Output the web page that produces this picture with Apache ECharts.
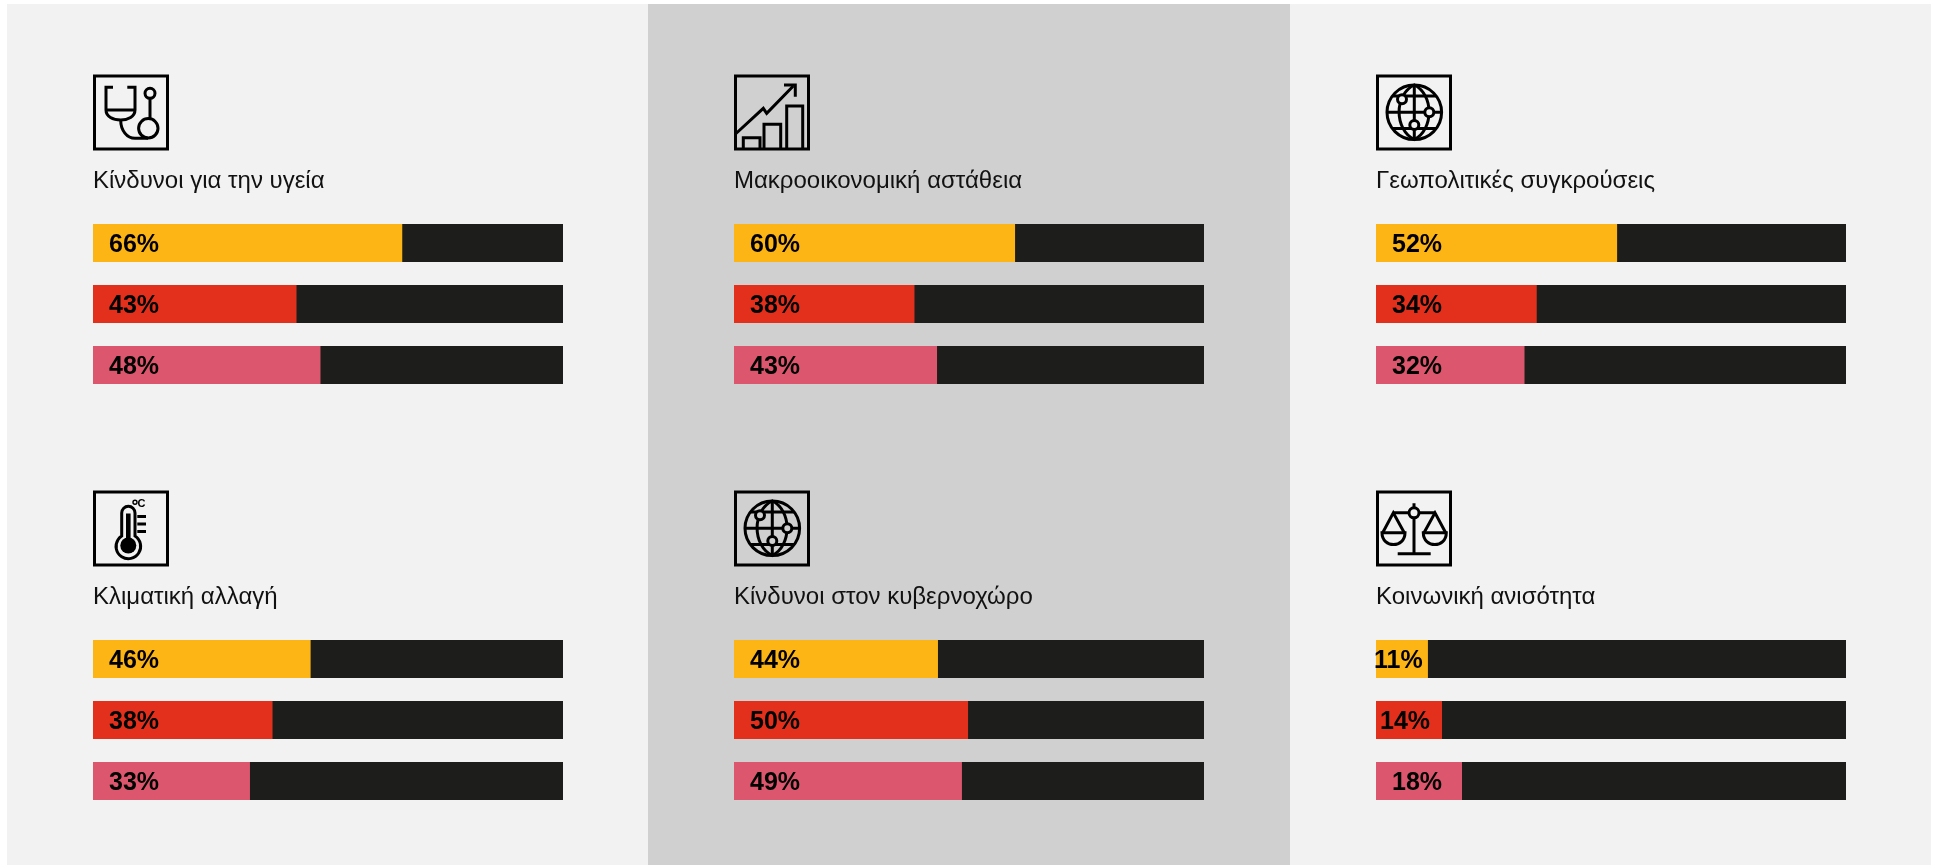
<!DOCTYPE html>
<html>
<head>
<meta charset="utf-8">
<style>
  html, body { margin: 0; padding: 0; background: #fff; }
  #main { width: 1939px; height: 865px; }
</style>
<script src="https://cdn.jsdelivr.net/npm/echarts@6/dist/echarts.min.js"></script>
</head>
<body>
<div id="main"></div>
<script>
const titles = [
  "Κίνδυνοι για την υγεία",
  "Μακροοικονομική αστάθεια",
  "Γεωπολιτικές συγκρούσεις",
  "Κλιματική αλλαγή",
  "Κίνδυνοι στον κυβερνοχώρο",
  "Κοινωνική ανισότητα",
];
// percentages as printed on the bars
const firstLabel = [66, 60, 52, 46, 44, 11];
const secondLabel = [43, 38, 34, 38, 50, 14];
const thirdLabel = [48, 43, 32, 33, 49, 18];
// bar lengths as measured, the artwork is not exactly to scale with its labels
const firstBar = [65.8, 59.8, 51.3, 46.3, 43.4, 11.05];
const secondBar = [43.3, 38.4, 34.2, 38.2, 49.8, 14.05];
const thirdBar = [48.4, 43.2, 31.6, 33.4, 48.5, 18.3];
const barColors = ["#fcb515", "#e3301c", "#dc566d"];
const iconNames = ["health", "macro", "globe", "climate", "globe", "justice"];

const colLeft = [93, 734, 1376];
const rowTop = [212.5, 628.5];
const barLength = 470;
const dark = "#1d1d1b";
const iconStroke = 3;

// the two narrowest bars pull their label to the left so it still fits
function labelInset(v) {
  if (v === 11) return -2;
  if (v === 14) return 4;
  return 16;
}

const grids = [], xAxes = [], yAxes = [], series = [], titleList = [], graphics = [];

graphics.push(
  { type: "rect", z: -1, shape: { x: 7, y: 4, width: 641, height: 861 }, style: { fill: "#f2f2f2" } },
  { type: "rect", z: -1, shape: { x: 648, y: 4, width: 642, height: 861 }, style: { fill: "#d0d0d0" } },
  { type: "rect", z: -1, shape: { x: 1290, y: 4, width: 641, height: 861 }, style: { fill: "#f2f2f2" } }
);

let shapeCount = 0;
function path(d, fill) {
  const name = "iconPath" + shapeCount++;
  echarts.graphic.registerShape(name, echarts.graphic.extendPath(d, {}));
  return { type: name, style: { stroke: "#000", lineWidth: iconStroke, fill: fill || "none" } };
}
function circle(cx, cy, r, fill) {
  return { type: "circle", shape: { cx, cy, r }, style: { stroke: "#000", lineWidth: iconStroke, fill: fill || "none" } };
}

// icons, coordinates are inside the 76x76 box
const icons = {
  health: (bg) => [
    path("M20 12.8 H13 V35.5 C13 42 20 45.5 27.7 45.5 C35 45.5 42 42 42 35.5 V12.8 H34.3"),
    path("M13 35.5 H42"),
    path("M27.7 45.5 C27.7 56 34 63.8 42 63.8 H55"),
    circle(55.3, 53.8, 9.7),
    circle(57, 18.8, 5),
    path("M57 23.8 V44"),
  ],
  macro: (bg) => [
    path("M2 59 L29.3 33.8 L32.7 38.8 L59.3 11.5"),
    path("M50 10.5 H61.3 V22.2"),
    path("M9.3 75 V63.2 H26 V75"),
    path("M30 75 V49.8 H46.7 V75"),
    path("M52.7 75 V31.5 H68.7 V75"),
  ],
  globe: (bg) => [
    circle(38.3, 37.8, 27.3),
    path("M38.3 10.5 C18 20 18 55 38.3 65 C58 55 58 20 38.3 10.5 Z"),
    path("M38.3 10.5 V65 M11 37.8 H65.6 M17 21.5 H60 M17 54 H60"),
    circle(26, 24.8, 4.5, bg),
    circle(53.3, 37.8, 4.5, bg),
    circle(38.3, 50.5, 4.5, bg),
  ],
  climate: (bg) => [
    path("M28.7 45.5 V22.5 A6.6 6.6 0 0 1 42 22.5 V45.5 A12.3 12.3 0 1 1 28.7 45.5 Z"),
    { type: "rect", shape: { x: 33, y: 23, width: 4.6, height: 30 }, style: { fill: "#000" } },
    { type: "circle", shape: { cx: 35.3, cy: 55, r: 8 }, style: { fill: "#000" } },
    path("M44.3 26 H53 M44.3 33.5 H53 M44.3 41 H53"),
    { type: "circle", shape: { cx: 42, cy: 11.7, r: 2 }, style: { stroke: "#000", lineWidth: 1.4, fill: "none" } },
    { type: "text", style: { x: 44.5, y: 7.5, text: "C", fontFamily: "Liberation Sans", fontSize: 11, fontWeight: "bold", fill: "#000" } },
  ],
  justice: (bg) => [
    path("M38 12.7 V63.3 M21.7 63.3 H54.7 M17.3 22.3 H59"),
    circle(38, 22.3, 5, bg),
    path("M6.7 42.3 L17.3 22.3 L28.3 42.3 M48 42.3 L59 22.3 L69.7 42.3"),
    path("M6 42.3 H29 C29 58 6 58 6 42.3 Z"),
    path("M47.3 42.3 H70.3 C70.3 58 47.3 58 47.3 42.3 Z"),
  ],
};

titles.forEach((name, i) => {
  const col = i % 3, row = Math.floor(i / 3);
  const left = colLeft[col], top = rowTop[row];
  const panelFill = col === 1 ? "#d0d0d0" : "#f2f2f2";
  const printed = [firstLabel[i], secondLabel[i], thirdLabel[i]];

  grids.push({ left, top, width: barLength, height: 183 });
  xAxes.push({ gridIndex: i, type: "value", min: 0, max: 100, show: false });
  yAxes.push({ gridIndex: i, type: "category", inverse: true, show: false, data: ["a", "b", "c"] });

  series.push({
    type: "bar", xAxisIndex: i, yAxisIndex: i, barWidth: 38, barGap: "-100%", silent: true,
    itemStyle: { color: dark },
    data: [100, 100, 100],
  });
  series.push({
    type: "bar", xAxisIndex: i, yAxisIndex: i, barWidth: 38, barGap: "-100%", silent: true,
    data: [firstBar[i], secondBar[i], thirdBar[i]].map((v, k) => ({
      value: v,
      itemStyle: { color: barColors[k] },
      label: {
        show: true, position: "insideLeft", distance: labelInset(printed[k]), offset: [0, 2.5],
        formatter: printed[k] + "%",
        fontFamily: "Liberation Sans", fontSize: 25, fontWeight: "bold", color: "#000",
      },
    })),
  });

  titleList.push({
    text: name, left, top: top - 43, padding: 0,
    textStyle: { fontFamily: "Liberation Sans", fontSize: 24, fontWeight: "normal", color: "#111" },
  });

  const kids = icons[iconNames[i]](panelFill);
  kids.unshift({ type: "rect", shape: { x: 1.5, y: 1.5, width: 73, height: 73 }, style: { stroke: "#000", lineWidth: 3, fill: "none" } });
  graphics.push({ type: "group", x: left, y: top - 138, children: kids });
});

const chart = echarts.init(document.getElementById("main"));
chart.setOption({
  animation: false,
  title: titleList,
  grid: grids,
  xAxis: xAxes,
  yAxis: yAxes,
  series,
  graphic: graphics,
});
</script>
</body>
</html>
